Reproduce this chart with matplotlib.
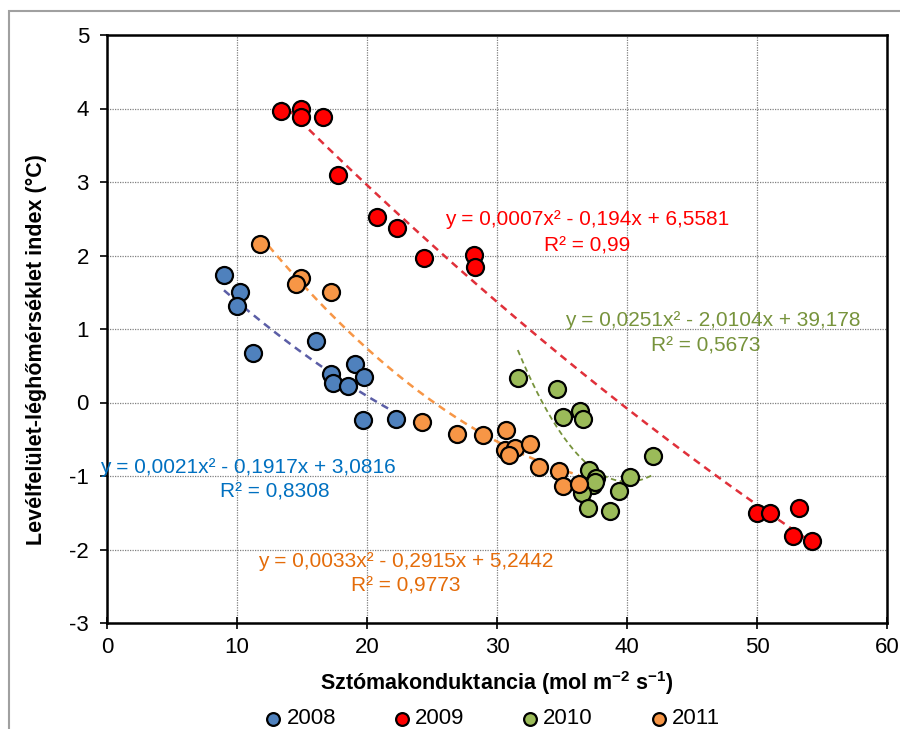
import matplotlib
matplotlib.use("Agg")
import matplotlib.pyplot as plt
import numpy as np
from matplotlib.patches import Rectangle

plt.rcParams['font.family'] = ['Liberation Sans', 'DejaVu Sans']
plt.rcParams['mathtext.fontset'] = 'custom'
plt.rcParams['mathtext.rm'] = 'Liberation Sans'
plt.rcParams['mathtext.bf'] = 'Liberation Sans:bold'
plt.rcParams['axes.unicode_minus'] = False

# ---- data ----
x2008 = [9.0, 10.2, 10.0, 11.2, 16.1, 17.2, 17.4, 18.5, 19.1, 19.8, 19.7, 22.2]
y2008 = [1.73, 1.51, 1.31, 0.68, 0.83, 0.39, 0.26, 0.22, 0.53, 0.35, -0.24, -0.22]

x2009 = [13.4, 14.9, 14.9, 16.6, 17.8, 20.8, 22.3, 24.4, 28.2, 28.3, 50.0, 51.0, 53.2, 52.8, 54.2]
y2009 = [3.96, 4.00, 3.88, 3.89, 3.10, 2.53, 2.37, 1.96, 2.01, 1.85, -1.51, -1.51, -1.44, -1.81, -1.89]

x2010 = [31.6, 34.6, 35.1, 36.4, 36.6, 42.0, 37.1, 37.6, 37.4, 36.5, 40.2, 39.4, 37.0, 38.7, 37.5]
y2010 = [0.33, 0.19, -0.20, -0.12, -0.23, -0.73, -0.92, -1.03, -1.12, -1.23, -1.02, -1.21, -1.44, -1.47, -1.08]

x2011 = [11.8, 14.9, 14.5, 17.2, 24.2, 26.9, 28.9, 30.7, 30.6, 31.4, 30.9, 32.5, 33.2, 34.8, 35.1, 36.3]
y2011 = [2.16, 1.69, 1.61, 1.50, -0.26, -0.43, -0.44, -0.37, -0.64, -0.62, -0.71, -0.56, -0.88, -0.93, -1.13, -1.11]

coef2008 = [0.0021, -0.1917, 3.0816]
coef2009 = [0.0007, -0.194, 6.5581]
coef2010 = [0.0251, -2.0104, 39.178]
coef2011 = [0.0033, -0.2915, 5.2442]

eq2008 = ["y = 0,0021x² - 0,1917x + 3,0816", "R² = 0,8308"]
eq2009 = ["y = 0,0007x² - 0,194x + 6,5581", "R² = 0,99"]
eq2010 = ["y = 0,0251x² - 2,0104x + 39,178", "R² = 0,5673"]
eq2011 = ["y = 0,0033x² - 0,2915x + 5,2442", "R² = 0,9773"]

years = ["2008", "2009", "2010", "2011"]

# ---- figure ----
W, H = 900, 729
fig = plt.figure(figsize=(9, 7.29), dpi=100)
ax = fig.add_axes([107 / W, 1 - 623 / H, (887 - 107) / W, (623 - 35) / H])

fig.patches.append(Rectangle((9 / W, -0.1), 1.2, 1 - 11 / H + 0.1, transform=fig.transFigure,
                             fill=False, ec='#a0a0a0', lw=1.5, zorder=0))

series = [
    (x2008, y2008, coef2008, '#4F81BD', '#5B5EA6', eq2008, '#0070C0'),
    (x2009, y2009, coef2009, '#FF0000', '#E0303A', eq2009, '#FF0000'),
    (x2010, y2010, coef2010, '#9BBB59', '#77933C', eq2010, '#77933C'),
    (x2011, y2011, coef2011, '#F79646', '#F79646', eq2011, '#E46C0A'),
]

handles = []
for (xs, ys, c, mc, lc, eq, tc), yr in zip(series, years):
    xs = np.array(xs)
    xx = np.linspace(xs.min(), xs.max(), 200)
    yy = np.polyval(c, xx)
    lw = 1.3 if yr == '2010' else 1.8
    ax.plot(xx, yy, '--', color=lc, lw=lw, dashes=(3, 2.2) if yr != '2010' else (3, 2), zorder=2)
    h = ax.scatter(xs, ys, s=150, c=mc, edgecolors='black', linewidths=1.6, zorder=3, label=yr)
    handles.append(h)

# equations
def px2d(px, py):
    return (px - 107) / 13.0, (402 - py) / 73.5

texts = [
    (eq2009[0], 587, 219, '#FF0000'), (eq2009[1], 587, 246, '#FF0000'),
    (eq2010[0], 713, 320, '#77933C'), (eq2010[1], 706, 346, '#77933C'),
    (eq2008[0], 248, 467, '#0070C0'), (eq2008[1], 275, 492, '#0070C0'),
    (eq2011[0], 406, 561, '#E46C0A'), (eq2011[1], 406, 586, '#E46C0A'),
]
for t, px, py, col in texts:
    xd, yd = px2d(px, py)
    ax.text(xd, yd, t, color=col, fontsize=15, ha='center', va='center', zorder=4)

ax.set_xlim(0, 60)
ax.set_ylim(-3, 5)
ax.set_xticks(range(0, 61, 10))
ax.set_yticks(range(-3, 6))
ax.grid(True, color='#808080', linestyle=(0, (1, 1)), lw=0.9)
ax.set_axisbelow(True)
for s in ax.spines.values():
    s.set_linewidth(1.8)
    s.set_color('black')
ax.tick_params(axis='x', direction='inout', length=8, width=1.2, labelsize=16, pad=6)
ax.tick_params(axis='y', direction='out', length=5, width=1.2, labelsize=16, pad=8)

ax.set_xlabel(r'Sztómakonduktancia (mol m$^{\mathbf{-2}}$ s$^{\mathbf{-1}}$)', fontsize=15.5,
              fontweight='bold', labelpad=8)
ax.set_ylabel('Levélfelület-léghőmérséklet index (°C)', fontsize=15.5, fontweight='bold')
ax.yaxis.set_label_coords(-60 / 780, 1 - (350 - 35) / 588)

leg = fig.legend(handles=handles, labels=years, loc='center', bbox_to_anchor=(490 / W, 1 - 719 / H),
                 ncol=4, frameon=False, fontsize=16, handletextpad=0.0, columnspacing=2.35,
                 markerscale=0.75, borderpad=0, handlelength=1.2)

fig.savefig('out.png', dpi=100)
